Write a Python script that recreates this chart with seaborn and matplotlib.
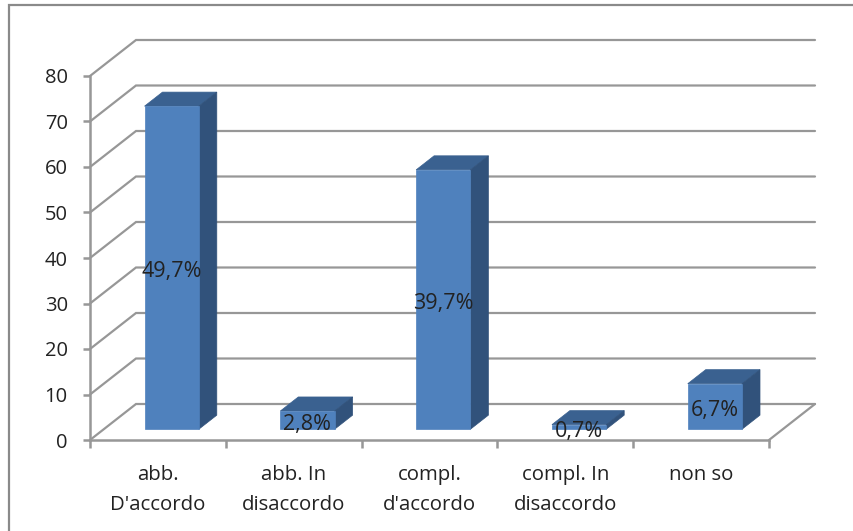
import matplotlib
matplotlib.use("Agg")
import matplotlib.pyplot as plt
from matplotlib.patches import Polygon, Rectangle
import pandas as pd
import seaborn as sns

categories = ["abb.\nD'accordo", "abb. In\ndisaccordo", "compl.\nd'accordo", "compl. In\ndisaccordo", "non so"]
counts = [71, 4, 57, 1, 10]
percent_labels = ["49,7%", "2,8%", "39,7%", "0,7%", "6,7%"]
y_ticks = [0, 10, 20, 30, 40, 50, 60, 70, 80]

FRONT = "#4F81BD"
TOP = "#3A6190"
SIDE = "#31527B"
LINE = "#979797"
TEXT = "#222222"

sns.set_theme(style="white")
plt.rcParams["font.family"] = ["Open Sans", "DejaVu Sans"]

W, H = 854, 531
fig = plt.figure(figsize=(W / 100, H / 100), dpi=100)

# Front plane of the pseudo-3D box, in pixel bounds
left, right, top, bottom = 90, 769, 76, 440
ax = fig.add_axes([left / W, 1 - bottom / H, (right - left) / W, (bottom - top) / H])

df = pd.DataFrame({"categoria": categories, "conteggio": counts})
sns.barplot(data=df, x="categoria", y="conteggio", width=0.4, color=FRONT,
            saturation=1, ax=ax, zorder=3, edgecolor=FRONT, linewidth=0.5)
ax.set_xlim(-0.5, 4.5)
ax.set_ylim(0, 80)
ax.set_xlabel("")
ax.set_ylabel("")

# Depth vector of the box in data units: 46 px right and 36 px up
DX = 46 / ((right - left) / 5)
DY = 36 / ((bottom - top) / 80)
NEAR, FAR = 0.3, 0.69


def at_depth(x, y, d):
    return (x + d * DX, y + d * DY)


# Back wall gridlines, wall diagonals and the floor's right edge
for v in y_ticks:
    ax.plot(*zip(at_depth(-0.5, v, 0), at_depth(-0.5, v, 1), at_depth(4.5, v, 1)),
            color=LINE, lw=1.6, clip_on=False, zorder=1, solid_joinstyle="miter")
ax.plot(*zip(at_depth(4.5, 0, 0), at_depth(4.5, 0, 1)),
        color=LINE, lw=1.6, clip_on=False, zorder=1)

# Each bar: shifted front face, darker top and side faces, then its label
for patch, label in zip(ax.patches, percent_labels):
    x0, w, h = patch.get_x(), patch.get_width(), patch.get_height()
    x1 = x0 + w
    ax.add_patch(Polygon([at_depth(x0, h, NEAR), at_depth(x1, h, NEAR),
                          at_depth(x1, h, FAR), at_depth(x0, h, FAR)],
                         facecolor=TOP, edgecolor=TOP, lw=0.5, clip_on=False, zorder=2))
    ax.add_patch(Polygon([at_depth(x1, 0, NEAR), at_depth(x1, h, NEAR),
                          at_depth(x1, h, FAR), at_depth(x1, 0, FAR)],
                         facecolor=SIDE, edgecolor=SIDE, lw=0.5, clip_on=False, zorder=2))
    fx, fy = at_depth(x0, 0, NEAR)
    patch.set_x(fx)
    patch.set_y(fy)
    patch.set_clip_on(False)
    ax.annotate(label, (fx + w / 2, fy + h / 2), xytext=(0, -3), textcoords="offset points",
                ha="center", va="center", fontsize=15.5, color=TEXT, zorder=5,
                annotation_clip=False)

# Axes: front floor edge, left edge, outward ticks at category boundaries
for side in ("top", "right"):
    ax.spines[side].set_visible(False)
for side in ("left", "bottom"):
    ax.spines[side].set_color(LINE)
    ax.spines[side].set_linewidth(1.8)
    ax.spines[side].set_zorder(2)
ax.set_yticks(y_ticks)
ax.set_xticks([i - 0.5 for i in range(6)])
ax.set_xticklabels([])
ax.set_xticks(range(5), labels=categories, minor=True)
ax.tick_params(axis="x", which="major", length=6, width=1.8, color=LINE, bottom=True)
ax.tick_params(axis="x", which="minor", length=0, pad=18, labelsize=14.7, labelcolor=TEXT, bottom=False)
ax.tick_params(axis="y", length=5, width=1.8, color=LINE, pad=11, labelsize=14.5, labelcolor=TEXT, left=True)
for tick in ax.get_xticklabels(minor=True):
    tick.set_linespacing(1.65)

# Chart area frame running off the right and bottom of the image
fig.add_artist(Rectangle((9 / W, -0.02), (W + 20) / W, 1.02 - 5 / H, transform=fig.transFigure,
                         fill=False, edgecolor="#8A8A8A", lw=1.6))

fig.savefig("out.png", dpi=100)
